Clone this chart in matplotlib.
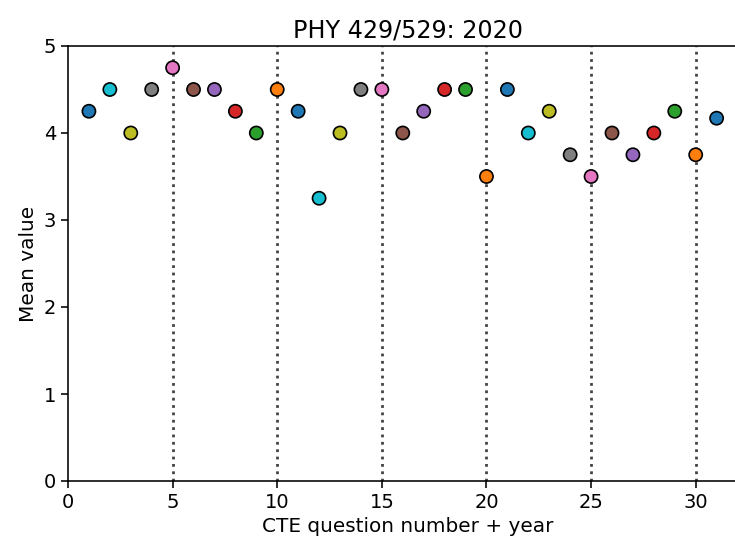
import matplotlib
matplotlib.use("Agg")
import matplotlib.pyplot as plt
import numpy as np

questions = list(range(1, 32))
means = [4.25, 4.5, 4.0, 4.5, 4.75, 4.5, 4.5, 4.25, 4.0, 4.5,
         4.25, 3.25, 4.0, 4.5, 4.5, 4.0, 4.25, 4.5, 4.5, 3.5,
         4.5, 4.0, 4.25, 3.75, 3.5, 4.0, 3.75, 4.0, 4.25, 3.75,
         4.17]
year_marks = [5, 10, 15, 20, 25, 30]
title = "PHY 429/529: 2020"

tab10 = plt.get_cmap("tab10").colors
colors = [tab10[(-(i)) % 10] for i in range(len(questions))]

fig = plt.figure(figsize=(7.35, 5.44), dpi=100)
ax = fig.add_axes([68/735, 63/544, 680/735, 435/544])

for xv in year_marks:
    ax.axvline(xv, color="#444444", linestyle=":", linewidth=2, zorder=1)

ax.scatter(questions, means, s=90, c=colors, edgecolors="black", linewidths=1.2, zorder=3)

ax.set_xlim(0, 32.5)
ax.set_ylim(0, 5)
ax.set_xticks([0, 5, 10, 15, 20, 25, 30])
ax.set_yticks([0, 1, 2, 3, 4, 5])
for s in ax.spines.values():
    s.set_linewidth(1.15)
ax.tick_params(labelsize=14, width=1.15, length=5)
ax.set_xlabel("CTE question number + year", fontsize=14.4)
ax.set_ylabel("Mean value", fontsize=14.4)
ax.set_title(title, fontsize=17.2)

fig.savefig("out.png", dpi=100)
